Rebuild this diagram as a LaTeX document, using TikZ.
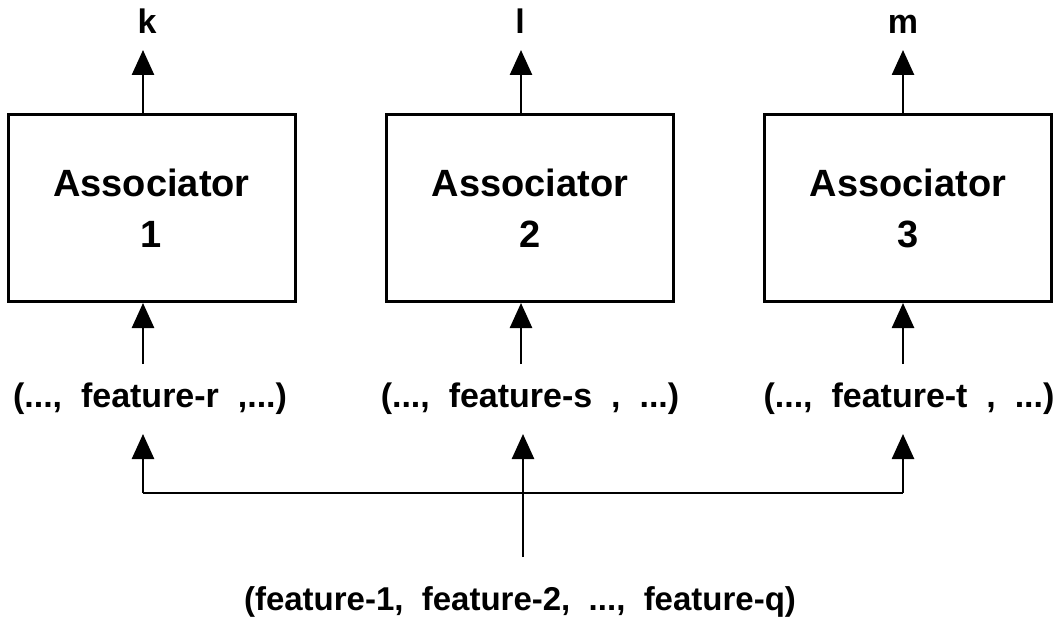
\documentclass[tikz,border=0pt]{standalone}
\usepackage{fontspec}
\setmainfont{Liberation Sans}
\usetikzlibrary{arrows.meta}
\begin{document}
\begin{tikzpicture}[x=1pt,y=-1pt,
  box/.style={draw, line width=3pt, minimum width=287pt, minimum height=187pt, inner sep=0pt, align=center, font=\fontsize{38}{51}\selectfont\bfseries},
  lbl/.style={font=\fontsize{34}{40}\selectfont\bfseries, inner sep=0pt, anchor=base},
  arr/.style={line width=2.6pt, -{Triangle[length=25pt,width=22pt]}},
  ln/.style={line width=2.6pt}]
\useasboundingbox (0,0) rectangle (1054,620);
% boxes
\node[box] (b1) at (151.5,208) {Associator\\1};
\node[box] (b2) at (530,208) {Associator\\2};
\node[box] (b3) at (908,208) {Associator\\3};
% output labels
\node[lbl] (k) at (147,34) {k};
\node[lbl] (l) at (520,34) {l};
\node[lbl] (m) at (903,34) {m};
\coordinate (t1) at (143,50);
\coordinate (t2) at (521,50);
\coordinate (t3) at (903,50);
\draw[arr] (b1.north -| t1) -- (t1);
\draw[arr] (b2.north -| t2) -- (t2);
\draw[arr] (b3.north -| t3) -- (t3);
% feature rows
\node[lbl] (f1) at (150,407) {(...,\ \ feature-r\ \ ,...)};
\node[lbl] (f2) at (530,407) {(...,\ \ feature-s\ \ ,\ \ ...)};
\node[lbl] (f3) at (909,407) {(...,\ \ feature-t\ \ ,\ \ ...)};
\coordinate (s1) at (143,364);
\coordinate (s2) at (521,364);
\coordinate (s3) at (903,364);
\draw[arr] (s1) -- (b1.south -| s1);
\draw[arr] (s2) -- (b2.south -| s2);
\draw[arr] (s3) -- (b3.south -| s3);
% distribution
\coordinate (h1) at (143,493);
\coordinate (h3) at (903,493);
\coordinate (p1) at (143,434);
\coordinate (p2) at (523,434);
\coordinate (p3) at (903,434);
\coordinate (c0) at (523,557);
\draw[ln] (h1) -- (h3);
\draw[arr] (h1) -- (p1);
\draw[arr] (h3) -- (p3);
\draw[arr] (c0) -- (p2);
% input label
\node[lbl, font=\fontsize{33}{40}\selectfont\bfseries] (q) at (520,610) {(feature-1,\ \ feature-2,\ \ ...,\ \ feature-q)};
\end{tikzpicture}
\end{document}
